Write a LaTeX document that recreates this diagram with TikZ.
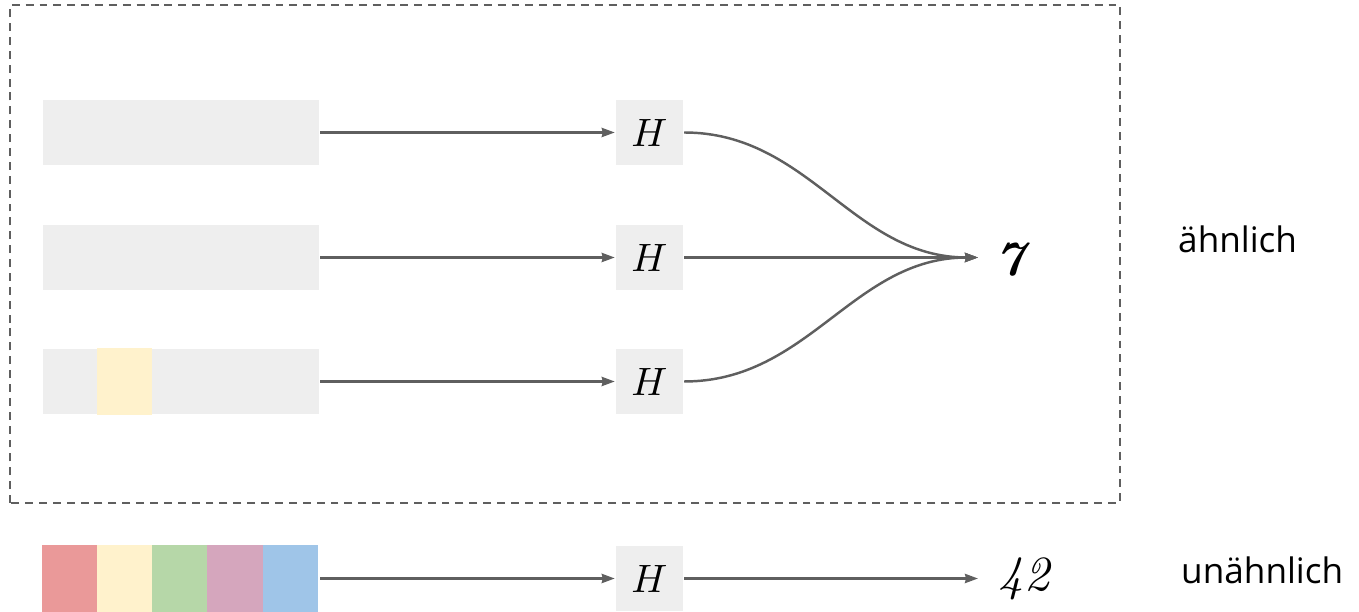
\documentclass[tikz,border=0pt]{standalone}
\usepackage{fontspec}
\usepackage{graphicx}
\newfontfamily\labelfont{Open Sans}
\usetikzlibrary{arrows.meta}
\definecolor{linegray}{HTML}{5F5F5F}
\definecolor{boxgray}{HTML}{EEEEEE}
\definecolor{cellred}{HTML}{EA9999}
\definecolor{cellyellow}{HTML}{FFF2CC}
\definecolor{cellgreen}{HTML}{B6D7A8}
\definecolor{cellpink}{HTML}{D5A6BD}
\definecolor{cellblue}{HTML}{9FC5E8}
\begin{document}
\begin{tikzpicture}[line width=1.4pt,>={Stealth[length=7.4pt,width=5.2pt,inset=0.6pt]},
  bar/.style={minimum width=5.52cm,minimum height=1.3cm,inner sep=0pt,fill=boxgray},
  hashbox/.style={fill=boxgray,minimum width=1.34cm,minimum height=1.3cm,inner sep=0pt},
  link/.style={draw=linegray,->},
  result/.style={inner sep=0pt},
  verdict/.style={font=\labelfont\fontsize{20}{24}\selectfont,anchor=base west,inner sep=0pt}]
\useasboundingbox (0,0) rectangle (27.18,12.24);
% ---- dashed frame round the similar inputs ----
\draw[linegray,line width=1.2pt,dash pattern=on 4.5pt off 3.4pt] (0.2,2.18) rectangle (22.4,12.14);
% ---- input rows ----
\node[bar] (bar1) at (3.62,9.59) {};
\node[bar] (bar2) at (3.62,7.09) {};
\node[bar] (bar3) at (3.62,4.61) {};
\fill[cellyellow] ([xshift=1.104cm]bar3.south west) rectangle ([xshift=2.208cm]bar3.north west);
\node[bar,fill=none] (bar4) at (3.62,0.67) {};
\foreach \c [count=\i from 0] in {cellred,cellyellow,cellgreen,cellpink,cellblue}
  \fill[\c] ([xshift=\i*1.104cm]bar4.south west) rectangle ([xshift=\i*1.104cm+1.104cm]bar4.north west);
% ---- hash nodes ----
\foreach \i/\y in {1/9.59,2/7.09,3/4.61,4/0.67}
  \node[hashbox] (h\i) at (12.99,\y) {\scalebox{2.25}{$H$}};
\foreach \i in {1,...,4}
  \draw[link] (bar\i) -- (h\i);
% ---- outputs ----
\coordinate (merge) at (19.56,7.09);
\coordinate (split) at (19.56,0.67);
\draw[link] (h1.east) to[out=0,in=180] (merge);
\draw[link] (h2) -- (merge);
\draw[link] (h3.east) to[out=0,in=180] (merge);
\draw[link] (h4) -- (split);
\node[result] (seven) at (20.26,7.04) {\scalebox{2.8}{\textbf{\textit{7}}}};
\node[result] (fortytwo) at (20.5,0.67) {\scalebox{2.8}{\textit{42}}};
\node[verdict] (similar) at (23.54,7.18) {ähnlich};
\node[verdict] (dissimilar) at (23.6,0.56) {unähnlich};
\end{tikzpicture}
\end{document}
